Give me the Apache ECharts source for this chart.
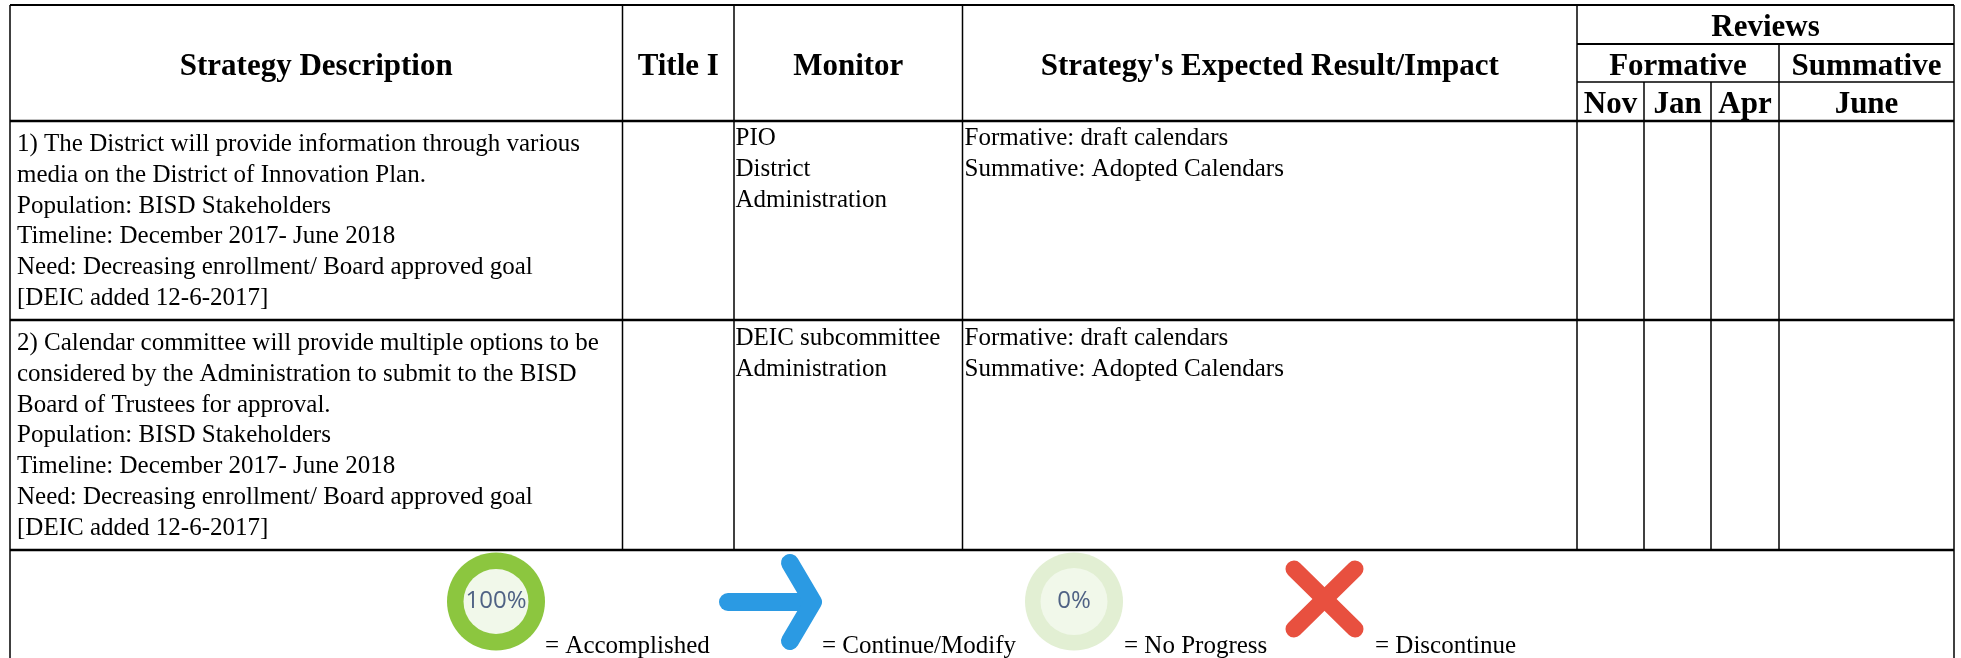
<!DOCTYPE html>
<html><head><meta charset="utf-8">
<style>html,body{margin:0;padding:0;background:#fff}#c{width:1961px;height:658px}</style>
<script src="https://cdn.jsdelivr.net/npm/echarts@6/dist/echarts.min.js"></script>
</head><body><div id="c"></div>
<script>
// ---- content ----
const headerTitles = ['Strategy Description', 'Title I', 'Monitor', "Strategy's Expected Result/Impact"];
const reviewTitle = ['Reviews'];
const reviewGroups = ['Formative', 'Summative'];
const reviewMonths = ['Nov', 'Jan', 'Apr', 'June'];
const descriptions = [
  ['1) The District will provide information through various', 'media on the District of Innovation Plan.', 'Population: BISD Stakeholders', 'Timeline: December 2017- June 2018', 'Need: Decreasing enrollment/ Board approved goal', '[DEIC added 12-6-2017]'],
  ['2) Calendar committee will provide multiple options to be', 'considered by the Administration to submit to the BISD', 'Board of Trustees for approval.', 'Population: BISD Stakeholders', 'Timeline: December 2017- June 2018', 'Need: Decreasing enrollment/ Board approved goal', '[DEIC added 12-6-2017]']
];
const monitors = [['PIO', 'District', 'Administration'], ['DEIC subcommittee', 'Administration']];
const results = [['Formative: draft calendars', 'Summative: Adopted Calendars'], ['Formative: draft calendars', 'Summative: Adopted Calendars']];
const legendLabels = ['= Accomplished', '= Continue/Modify', '= No Progress', '= Discontinue'];
const legendPercents = ['100%', '0%'];

// ---- layout (table grid, in axis units) ----
const W = 1961, H = 658;
const X = [10, 622.5, 734, 962.5, 1577, 1644, 1711, 1779, 1954];
const Y = [5, 44, 82, 121, 320, 550, 658];
const SERIF = '"Liberation Serif","Times New Roman",serif';
const HEAD = 31, BODY = 25, LH = 30.8, INK = '#000';

// rules: [x0,y0,x1,y1,width]
const rules = [];
const hr = (a, b, y, w) => rules.push([a, y, b, y, w]);
const vr = (x, a, b, w) => rules.push([x, a, x, b, w]);
hr(X[0], X[8], Y[0], 2); hr(X[4], X[8], Y[1], 2); hr(X[4], X[8], Y[2], 1.5);
hr(X[0], X[8], Y[3], 2.5); hr(X[0], X[8], Y[4], 2.5); hr(X[0], X[8], Y[5], 2.5);
vr(X[0], Y[0], Y[6], 1.5); vr(X[8], Y[0], Y[6], 1.5);
[1, 2, 3].forEach(i => vr(X[i], Y[0], Y[5], 1.5));
vr(X[4], Y[0], Y[5], 1.5);
[5, 6].forEach(i => vr(X[i], Y[2], Y[5], 1.5));
vr(X[7], Y[1], Y[5], 1.5);

// text cells: text, x anchor, y anchor, align, weight
const cells = [];
const head = (t, c0, c1, r0, r1) => cells.push({ t, x: (X[c0] + X[c1]) / 2, y: (Y[r0] + Y[r1]) / 2 + 3.5, a: 'center', v: 'middle', s: HEAD, b: 'bold' });
headerTitles.forEach((t, i) => head(t, i, i + 1, 0, 3));
head(reviewTitle[0], 4, 8, 0, 1);
head(reviewGroups[0], 4, 7, 1, 2); head(reviewGroups[1], 7, 8, 1, 2);
reviewMonths.forEach((t, i) => head(t, 4 + i, 5 + i, 2, 3));
const body = (lines, x, y) => cells.push({ t: lines.join('\n'), x, y, a: 'left', v: 'top', s: BODY, b: 'normal' });
descriptions.forEach((l, i) => body(l, X[0] + 7, Y[3 + i] + 8));
monitors.forEach((l, i) => body(l, X[2] + 1.5, Y[3 + i] + 2 + i));
results.forEach((l, i) => body(l, X[3] + 2, Y[3 + i] + 2 + i));
const legendAnchors = [545, 822, 1124, 1375];
legendLabels.forEach((t, i) => cells.push({ t, x: legendAnchors[i], y: 646.5, a: 'left', v: 'middle', s: BODY, b: 'normal' }));

const chart = echarts.init(document.getElementById('c'), null, { renderer: 'canvas' });

function ringIcon(api, cx, cy, ro, ri, outer, label) {
  const c = api.coord([cx, cy]);
  return [
    { type: 'circle', shape: { cx: c[0], cy: c[1], r: ro }, style: { fill: outer } },
    { type: 'circle', shape: { cx: c[0], cy: c[1], r: ri }, style: { fill: '#f1f8ea' } },
    { type: 'text', x: c[0], y: c[1], style: { text: label, fontFamily: '"Open Sans",sans-serif', fontSize: 24, fill: '#4f6284', align: 'center', verticalAlign: 'middle' } }
  ];
}
function stroke(api, pts, color, w) {
  return { type: 'polyline', shape: { points: pts.map(p => api.coord(p)) }, style: { fill: null, stroke: color, lineWidth: w, lineCap: 'round', lineJoin: 'round' } };
}

chart.setOption({
  animation: false,
  backgroundColor: '#fff',
  grid: { left: 0, right: 0, top: 0, bottom: 0 },
  xAxis: { type: 'value', min: 0, max: W, show: false },
  yAxis: { type: 'value', min: 0, max: H, inverse: true, show: false },
  tooltip: { show: false },
  series: [
    {
      type: 'custom', silent: true, clip: false, data: rules.map((r, i) => [r[0], r[1], i]),
      renderItem(p, api) {
        const r = rules[p.dataIndex], a = api.coord([r[0], r[1]]), b = api.coord([r[2], r[3]]);
        return { type: 'line', shape: { x1: a[0], y1: a[1], x2: b[0], y2: b[1] }, style: { stroke: '#000', lineWidth: r[4] } };
      }
    },
    {
      type: 'custom', silent: true, clip: false, data: cells.map((c, i) => [c.x, c.y, i]),
      renderItem(p, api) {
        const c = cells[p.dataIndex], a = api.coord([c.x, c.y]);
        return { type: 'text', x: a[0], y: a[1], style: { text: c.t, fontFamily: SERIF, fontSize: c.s, fontWeight: c.b, fill: INK, align: c.a, verticalAlign: c.v, lineHeight: c.v === 'top' ? LH : undefined } };
      }
    },
    {
      type: 'custom', silent: true, clip: false, data: [[0, 0]],
      renderItem(p, api) {
        return {
          type: 'group', children: [
            ...ringIcon(api, 496, 601.5, 49, 32.5, '#8cc63f', legendPercents[0]),
            stroke(api, [[728, 602], [812, 602]], '#2b9ae3', 18),
            stroke(api, [[790, 563], [813, 602], [790, 641]], '#2b9ae3', 18),
            ...ringIcon(api, 1074, 601.5, 49, 33.5, '#e2efd3', legendPercents[1]),
            stroke(api, [[1294, 569], [1355, 629]], '#e8503f', 17),
            stroke(api, [[1355, 569], [1294, 629]], '#e8503f', 17)
          ]
        };
      }
    }
  ]
});
</script></body></html>
